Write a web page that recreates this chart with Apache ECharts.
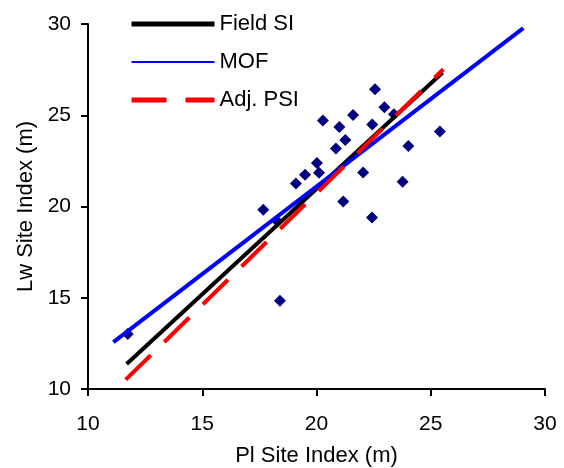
<!DOCTYPE html>
<html>
<head>
<meta charset="utf-8">
<script src="https://cdn.jsdelivr.net/npm/echarts@6/dist/echarts.min.js"></script>
<style>
html, body { margin: 0; padding: 0; background: #fff; }
#chart { width: 564px; height: 468px; }
</style>
</head>
<body>
<div id="chart"></div>
<script>
// observed points: [Pl SI, Lw SI]
const plotPoints = [
  [22.56, 26.43], [22.97, 25.44], [23.39, 25.06], [21.60, 25.01],
  [20.28, 24.71], [21.00, 24.35], [22.44, 24.49], [21.26, 23.65],
  [20.85, 23.18], [25.40, 24.11], [24.02, 23.31], [20.02, 22.39],
  [20.11, 21.85], [19.50, 21.74], [19.10, 21.26], [22.04, 21.86],
  [23.77, 21.35], [21.17, 20.27], [17.67, 19.82], [22.43, 19.40],
  [18.26, 19.22], [18.40, 14.84], [11.74, 13.01]
];
// fitted lines, end points
const fieldSI = [[11.69, 11.37], [25.52, 27.34]];
const mof = [[11.11, 12.57], [29.05, 29.77]];
const adjPSI = [[11.65, 10.51], [25.55, 27.52]];

const xTicks = { min: 10, max: 30, interval: 5 };
const yTicks = { min: 10, max: 30, interval: 5 };

const font = 'Liberation Sans, Arial, sans-serif';
const chart = echarts.init(document.getElementById('chart'));

const axisCommon = {
  type: 'value',
  splitLine: { show: false },
  axisLine: { show: true, onZero: false, lineStyle: { color: '#000', width: 2 } },
  axisTick: { show: true, length: 7, lineStyle: { color: '#000', width: 2 } },
  axisLabel: { color: '#000', fontSize: 21, fontFamily: font },
  nameLocation: 'middle',
  nameTextStyle: { color: '#000', fontSize: 22, fontFamily: font }
};

chart.setOption({
  animation: false,
  // keep the grid where it is, labels may sit near the edge
  grid: { left: 88, right: 19, top: 24, bottom: 79, containLabel: false, outerBoundsMode: 'none' },
  legend: {
    orient: 'vertical',
    left: 124,
    top: 8,
    itemWidth: 83,
    itemHeight: 14,
    itemGap: 16,
    itemStyle: { opacity: 0 },
    textStyle: { color: '#000', fontSize: 22, fontFamily: font },
    data: [
      { name: 'Field SI', lineStyle: { width: 5 } },
      { name: 'MOF', lineStyle: { width: 2 } },
      { name: 'Adj. PSI', lineStyle: { width: 5 } }
    ]
  },
  xAxis: Object.assign({}, axisCommon, xTicks, {
    name: 'Pl Site Index (m)',
    nameGap: 56,
    axisLabel: Object.assign({}, axisCommon.axisLabel, { margin: 25 })
  }),
  yAxis: Object.assign({}, axisCommon, yTicks, {
    name: 'Lw Site Index (m)',
    nameGap: 48,
    axisLabel: Object.assign({}, axisCommon.axisLabel, { margin: 17 })
  }),
  series: [
    {
      name: 'Points',
      type: 'scatter',
      symbol: 'diamond',
      symbolSize: 12,
      itemStyle: { color: '#000080', opacity: 1 },
      data: plotPoints,
      z: 3
    },
    {
      name: 'Field SI',
      type: 'line',
      showSymbol: false,
      symbol: 'none',
      lineStyle: { color: '#000', width: 4 },
      itemStyle: { color: '#000' },
      data: fieldSI,
      z: 4
    },
    {
      name: 'MOF',
      type: 'line',
      showSymbol: false,
      symbol: 'none',
      lineStyle: { color: '#0000ff', width: 4 },
      itemStyle: { color: '#0000ff' },
      data: mof,
      z: 4
    },
    {
      name: 'Adj. PSI',
      type: 'line',
      showSymbol: false,
      symbol: 'none',
      lineStyle: { color: '#ff0000', width: 4, type: [35, 19] },
      itemStyle: { color: '#ff0000' },
      data: adjPSI,
      z: 5
    }
  ]
});
</script>
</body>
</html>
